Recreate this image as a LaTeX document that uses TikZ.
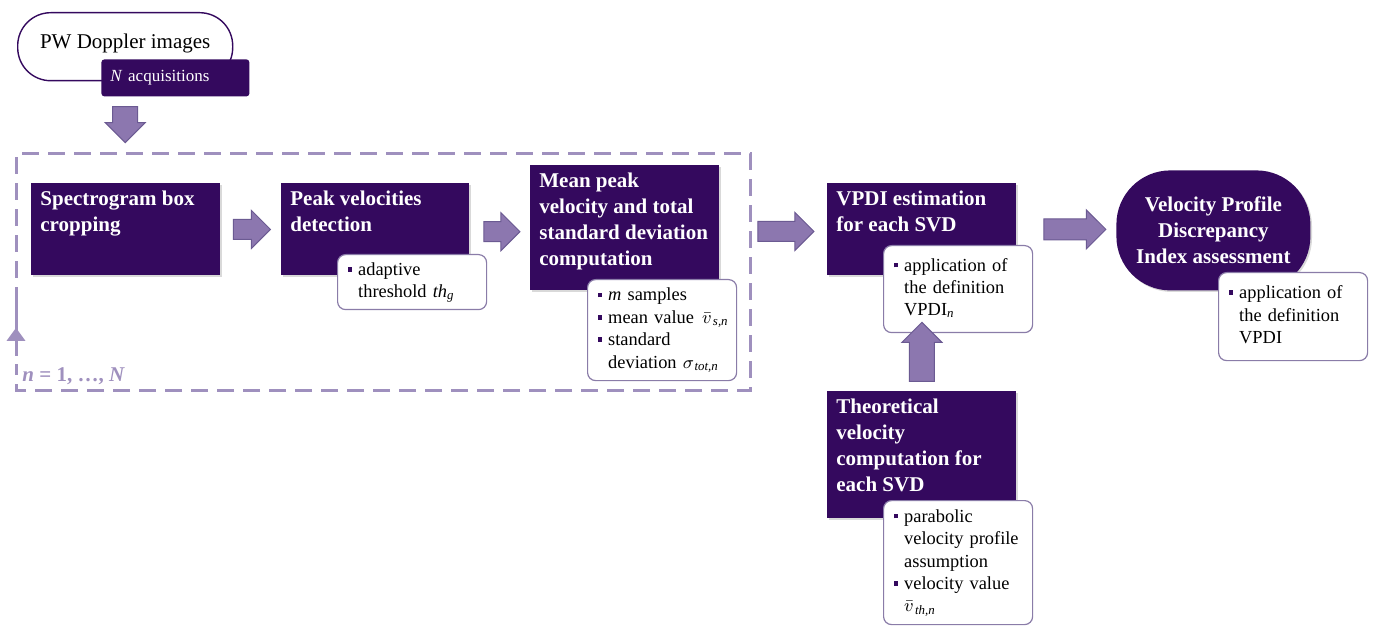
\documentclass[tikz,border=0pt]{standalone}
\usepackage{fontspec}
\setmainfont{Liberation Serif}
\usetikzlibrary{shapes.arrows,calc,arrows.meta,shadows}
\definecolor{dpurple}{HTML}{34095E}
\definecolor{afill}{HTML}{8C77AF}
\definecolor{aline}{HTML}{6B5A92}
\definecolor{dashc}{HTML}{9F90BE}
\definecolor{cline}{HTML}{8A7CA8}
\newcommand{\topbox}[3]{\parbox[c][#2][t]{#1}{#3}}
\newcommand{\bul}{\textcolor{dpurple}{\rule[0.45ex]{2.3pt}{2.3pt}}}
\tikzset{
  darkbox/.style={fill=dpurple, text=white, anchor=north west, inner xsep=4.5pt, inner ysep=4pt,
    font=\bfseries\fontsize{10.5}{13}\selectfont, align=left,
    drop shadow={shadow xshift=0.8pt, shadow yshift=-0.8pt, opacity=0.3}},
  callout/.style={draw=cline, line width=0.6pt, fill=white, rounded corners=4pt, anchor=north west,
    inner xsep=5pt, inner ysep=0pt, text width=64.5pt, align=left, text=black,
    font=\fontsize{9.2}{11.2}\selectfont},
  blockarrow/.style={single arrow, fill=afill, draw=aline, line width=0.5pt, inner sep=0pt,
    single arrow tip angle=90},
  dashline/.style={draw=dashc, line width=1.5pt, dash pattern=on 8.5pt off 4.5pt},
  loopline/.style={draw=dashc, line width=1.5pt},
}
\begin{document}
\begin{tikzpicture}[x=0.5pt,y=-0.5pt]
\useasboundingbox (0,0) rectangle (1373,626);

% input
\node[draw=dpurple, line width=0.7pt, fill=white, rounded corners=16.5pt, anchor=north west,
  minimum width=107.5pt, minimum height=34pt, inner sep=0pt, text depth=5pt,
  font=\fontsize{10.5}{12}\selectfont] (pw) at (17,12) {PW Doppler images};
\node[fill=dpurple, rounded corners=1.5pt, anchor=north west, minimum width=74pt, minimum height=18.5pt,
  inner xsep=4.5pt, text width=65pt, align=left, text=white, font=\fontsize{8.5}{10}\selectfont]
  (acq) at (101,59) {\raisebox{-1.5pt}{\textit{N} acquisitions}};

% loop frame
\node[anchor=north west, minimum width=367pt, minimum height=118pt, inner sep=0pt] (frame) at (16,154) {};
\coordinate (fl) at ($(frame.south west)+(0,-87)$);
\coordinate (ftip) at ($(frame.south west)+(0,-63)$);
\coordinate (fb) at ($(frame.south west)+(0,-35)$);
\coordinate (fb2) at ($(frame.south west)+(0,-27)$);
\draw[dashline] (fl) -- (frame.north west) -- (frame.north east) -- (frame.south east) -- (frame.south west) -- (fb2);
\draw[loopline] (fb) -- (fl);
\draw[loopline, -{Triangle[width=9pt,length=6.5pt]}] (fb) -- (ftip);
\node[anchor=base west, inner sep=0pt, text=dashc, font=\bfseries\fontsize{10.5}{12}\selectfont]
  (nlab) at (22,381) {\textit{n} = 1, …, \textit{N}};

% dark boxes
\node[darkbox] (b1) at (31,183) {\topbox{85.5pt}{38pt}{Spectrogram box\\cropping}};
\node[darkbox] (b2) at (281,183) {\topbox{85pt}{38pt}{Peak velocities\\detection}};
\node[darkbox] (b3) at (530,165) {\topbox{85.5pt}{54.5pt}{Mean peak\\velocity and total\\standard deviation\\computation}};
\node[darkbox] (b4) at (827,183) {\topbox{85.5pt}{38pt}{VPDI estimation\\for each SVD}};
\node[darkbox] (b6) at (827,391) {\topbox{85.5pt}{55.5pt}{Theoretical\\velocity\\computation for\\each SVD}};
\node[fill=dpurple, text=white, rounded corners=27pt, anchor=north west, minimum width=97pt, minimum height=60pt,
  inner sep=0pt, align=center, font=\bfseries\fontsize{10.5}{13}\selectfont,
  drop shadow={shadow xshift=0.8pt, shadow yshift=-0.8pt, opacity=0.3}]
  (b5) at (1116,170) {Velocity Profile\\Discrepancy\\Index assessment};

% callouts
\node[callout, minimum height=27.5pt] (c2) at (337,254)
  {\begin{tabular}{@{}l@{\hspace{3pt}}l@{}}\bul & adaptive\\ & threshold \textit{th}\textsubscript{\textit{g}}\end{tabular}};
\node[callout, minimum height=50.5pt] (c3) at (587,279)
  {\begin{tabular}{@{}l@{\hspace{3pt}}l@{}}\bul & \textit{m} samples\\ \bul & mean value\kern1pt{} $\bar{v}$\kern0.6pt\textsubscript{\textit{s,n}}\\ \bul & standard\\ & deviation $\sigma$\kern0.3pt\textsubscript{\textit{tot,n}}\end{tabular}};
\node[callout, minimum height=43.5pt] (c4) at (883,245)
  {\begin{tabular}{@{}l@{\hspace{3pt}}l@{}}\bul & application of\\ & the definition\\ & VPDI\textsubscript{\textit{n}}\end{tabular}};
\node[callout, minimum height=44pt] (c5) at (1218,272)
  {\begin{tabular}{@{}l@{\hspace{3pt}}l@{}}\bul & application of\\ & the definition\\ & VPDI\end{tabular}};
\node[callout, minimum height=62pt] (c6) at (883,500)
  {\begin{tabular}{@{}l@{\hspace{3pt}}l@{}}\bul & parabolic\\ & velocity profile\\ & assumption\\ \bul & velocity value\\ & $\bar{v}$\kern0.6pt\textsubscript{\textit{th,n}}\end{tabular}};

% block arrows
\node[blockarrow, rotate=-90, minimum height=18pt, single arrow head extend=3.75pt]
  (a0) at ($(pw.south|-acq.south)!0.5!(pw.south|-frame.north)+(0,-7)$) {\rule[-6pt]{0pt}{12pt}};
\node[blockarrow, minimum height=18.5pt, single arrow head extend=4.5pt]
  (a1) at ($(b1.east)!0.5!(b2.west)+(-4,0)$) {\rule[-4.75pt]{0pt}{9.5pt}};
\node[blockarrow, minimum height=18pt, single arrow head extend=4.5pt]
  (a2) at ($(b2.east)!0.5!(b3.west)+(-3,3)$) {\rule[-4.75pt]{0pt}{9.5pt}};
\node[blockarrow, minimum height=28pt, single arrow head extend=4.5pt]
  (a3) at ($(frame.east|-b4.east)!0.5!(b4.west)+(-8,2)$) {\rule[-4.75pt]{0pt}{9.5pt}};
\node[blockarrow, minimum height=31pt, single arrow head extend=4.5pt]
  (a4) at ($(c4.east|-b4.east)!0.5!(b5.west|-b4.east)+(-5,0)$) {\rule[-5pt]{0pt}{10pt}};
\node[blockarrow, rotate=90, minimum height=29.5pt, single arrow head extend=3.75pt]
  (a5) at ($(b6.north)!0.5!(b6.north|-c4.south)+(0,-4)$) {\rule[-6pt]{0pt}{12pt}};
\end{tikzpicture}
\end{document}
